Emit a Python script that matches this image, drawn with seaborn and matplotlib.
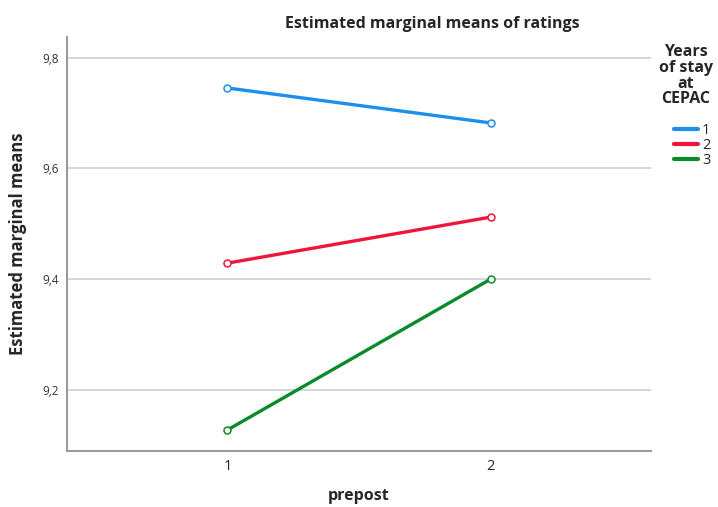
import matplotlib
matplotlib.use("Agg")
import matplotlib.pyplot as plt
from matplotlib.lines import Line2D
import seaborn as sns
import pandas as pd

# Valores
prepost = [1, 2]
anios = ["1", "2", "3"]
medias_1 = [9.745, 9.682]
medias_2 = [9.429, 9.512]
medias_3 = [9.128, 9.400]
colores = ["#1E8EEA", "#F0143C", "#0A8A2A"]

df = pd.DataFrame({
    "prepost": prepost * 3,
    "years": [a for a in anios for _ in prepost],
    "mean": medias_1 + medias_2 + medias_3,
})

sns.set_style("white")
plt.rcParams["font.family"] = ["Open Sans", "DejaVu Sans"]

fig = plt.figure(figsize=(7.18, 5.07), dpi=100)
ax = fig.add_axes([67 / 718, 1 - 451 / 507, (651 - 67) / 718, (451 - 37) / 507])

sns.lineplot(data=df, x="prepost", y="mean", hue="years", palette=colores,
             marker="o", markersize=5, linewidth=2.4, ax=ax, legend=False)
for line in ax.lines:
    line.set_markerfacecolor("white")
    line.set_markeredgecolor(line.get_color())
    line.set_markeredgewidth(1.1)

ax.set_xlim(0.39, 2.61)
ax.set_ylim(9.09, 9.837)
ax.set_xticks(prepost)
ax.set_xticklabels(["1", "2"], fontsize=10.5)
ax.set_yticks([9.2, 9.4, 9.6, 9.8])
ax.set_yticklabels(["9,2", "9,4", "9,6", "9,8"], fontsize=8.5, color="#333333")
ax.tick_params(axis="both", length=0, pad=6)
ax.yaxis.grid(True, color="#cccccc", linewidth=1.1)
ax.set_axisbelow(True)

for s in ["top", "right"]:
    ax.spines[s].set_visible(False)
for s in ["left", "bottom"]:
    ax.spines[s].set_color("#9a9a9a")
    ax.spines[s].set_linewidth(1.5)

ax.set_xlabel("prepost", fontsize=11.5, fontweight="bold", labelpad=10)
ax.set_ylabel("Estimated marginal means", fontsize=12, fontweight="bold", labelpad=11)
fig.text(432 / 718, 1 - 24 / 507, "Estimated marginal means of ratings",
         ha="center", va="center", fontsize=11.5, fontweight="bold")

# Título de la leyenda aparte para controlar el espaciado
fig.text(686 / 718, 1 - 44 / 507, "Years\nof stay\nat\nCEPAC", ha="center", va="top",
         fontsize=11.5, fontweight="bold", linespacing=0.98)

handles = [Line2D([0], [0], color=c, linewidth=3) for c in colores]
leg = fig.legend(handles, anios, loc="upper left",
                 bbox_to_anchor=(664 / 718, 1 - 113 / 507),
                 frameon=False, fontsize=10.5, handlelength=1.6, handletextpad=0.3,
                 labelspacing=0.0, borderpad=0.2)

fig.savefig("out.png", dpi=100)
